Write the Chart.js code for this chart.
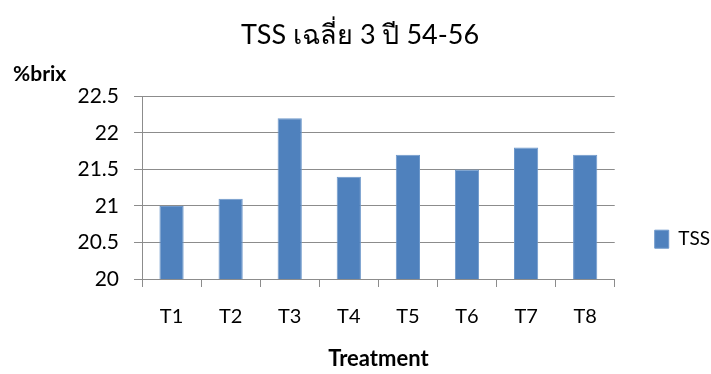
<!DOCTYPE html>
<html>
<head>
<meta charset="utf-8">
<script src="https://cdn.jsdelivr.net/npm/chart.js@4.4.1/dist/chart.umd.min.js"></script>
<style>
  html, body { margin: 0; padding: 0; background: #fff; }
  #wrap { width: 711px; height: 374px; }
</style>
</head>
<body>
<div id="wrap"><canvas id="tss" width="711" height="374"></canvas></div>
<script>
const treatments = ["T1", "T2", "T3", "T4", "T5", "T6", "T7", "T8"];
const tssValues = [21.0, 21.1, 22.2, 21.4, 21.7, 21.5, 21.8, 21.7];
const yMin = 20;
const yMax = 22.5;
const yStep = 0.5;

const FONT = "Lato, 'Noto Sans', 'DejaVu Sans', sans-serif";
const gridGray = "#8c8c8c";

// unit label sitting above the value axis
const unitLabel = {
    id: "unitLabel",
    afterDraw(chart) {
        const ctx = chart.ctx;
        ctx.save();
        ctx.font = "bold 21px " + FONT;
        ctx.fillStyle = "#000";
        ctx.textAlign = "left";
        ctx.textBaseline = "alphabetic";
        ctx.fillText("%brix", 13, 81);
        ctx.restore();
    }
};

const tssChartDiv = document.getElementById("tss");
const tssChart = new Chart(tssChartDiv,
    {
        type: "bar",
        data: {
            labels: treatments,
            datasets: [
                {
                    label: "TSS",
                    data: tssValues,
                    backgroundColor: "#4f81bd",
                    borderColor: "#6e98cb",
                    borderWidth: 1,
                    barPercentage: 0.41,
                    categoryPercentage: 1
                }
            ]
        },
        options: {
            responsive: false,
            animation: false,
            layout: {
                padding: { left: 0, right: -9, top: 0, bottom: 0 }
            },
            plugins: {
                title: {
                    display: true,
                    text: "TSS เฉลี่ย 3 ปี 54-56",
                    color: "#000",
                    font: { family: FONT, size: 27, weight: "normal", lineHeight: 1.2 },
                    padding: { top: 19, bottom: 45 }
                },
                legend: {
                    position: "right",
                    align: "center",
                    // blank title pushes the single entry down beside the lower bars
                    title: {
                        display: true,
                        text: " ",
                        font: { size: 12, lineHeight: 1.2 },
                        padding: { top: 45, bottom: 45 }
                    },
                    labels: {
                        boxWidth: 14,
                        boxHeight: 18,
                        padding: 40,
                        color: "#000",
                        font: { family: FONT, size: 19 }
                    }
                },
                tooltip: { enabled: false }
            },
            scales: {
                x: {
                    offset: true,
                    grid: {
                        offset: true,
                        drawOnChartArea: false,
                        drawTicks: true,
                        tickLength: 8,
                        color: gridGray
                    },
                    border: { color: gridGray },
                    ticks: {
                        color: "#000",
                        padding: 18,
                        font: { family: FONT, size: 20 }
                    },
                    title: {
                        display: true,
                        text: "Treatment",
                        color: "#000",
                        font: { family: FONT, size: 22, weight: "bold" },
                        padding: { top: 0, bottom: 2 }
                    },
                    afterFit(scale) {
                        scale.height = 95;
                    }
                },
                y: {
                    min: yMin,
                    max: yMax,
                    grid: {
                        color: gridGray,
                        tickLength: 8
                    },
                    border: { color: gridGray },
                    ticks: {
                        stepSize: yStep,
                        color: "#000",
                        padding: 15,
                        font: { family: FONT, size: 21 },
                        callback: (value) => String(value)
                    },
                    afterFit(scale) {
                        scale.width = 142;
                    }
                }
            }
        },
        plugins: [unitLabel]
    });
</script>
</body>
</html>
